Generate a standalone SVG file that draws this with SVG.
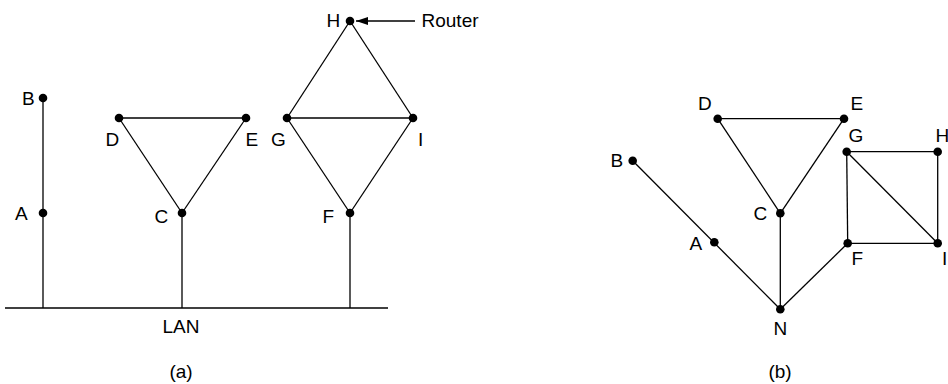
<svg xmlns="http://www.w3.org/2000/svg" width="948" height="384" viewBox="0 0 948 384">
<defs>
<style>
.e{stroke:#000;stroke-width:1.3;fill:none}
.d{fill:#000}
text{font-family:"Liberation Sans",Arial,sans-serif;font-size:19px;fill:#000}
.m{text-anchor:middle}
</style>
<marker id="ah" viewBox="0 0 12 8" refX="12" refY="4" markerWidth="12" markerHeight="8" markerUnits="userSpaceOnUse" orient="auto">
<path d="M0,0 L12,4 L0,8 Z" fill="#000"/>
</marker>
</defs>
<rect width="948" height="384" fill="#fff"/>
<g id="connectors">
<line class="e" x1="5" y1="308" x2="388" y2="308"/>
<line class="e" x1="43" y1="98" x2="43" y2="308"/>
<line class="e" x1="182" y1="213" x2="182" y2="308"/>
<line class="e" x1="350" y1="213" x2="350" y2="308"/>
<line class="e" x1="119" y1="118" x2="246" y2="118"/>
<line class="e" x1="119" y1="118" x2="182" y2="213"/>
<line class="e" x1="246" y1="118" x2="182" y2="213"/>
<line class="e" x1="287" y1="118" x2="413" y2="118"/>
<line class="e" x1="287" y1="118" x2="350" y2="21"/>
<line class="e" x1="413" y1="118" x2="350" y2="21"/>
<line class="e" x1="287" y1="118" x2="350" y2="213"/>
<line class="e" x1="413" y1="118" x2="350" y2="213"/>
<line class="e" x1="415" y1="21" x2="356" y2="21" marker-end="url(#ah)"/>
<line class="e" x1="717.7" y1="118.7" x2="844" y2="118.7"/>
<line class="e" x1="717.7" y1="118.7" x2="780.3" y2="213.3"/>
<line class="e" x1="844" y1="118.7" x2="780.3" y2="213.3"/>
<line class="e" x1="780.3" y1="213.3" x2="780.3" y2="309.3"/>
<line class="e" x1="632.7" y1="160.7" x2="780.3" y2="309.3"/>
<line class="e" x1="847.7" y1="243.3" x2="780.3" y2="309.3"/>
<line class="e" x1="846.7" y1="151.7" x2="937.7" y2="151.7"/>
<line class="e" x1="937.7" y1="151.7" x2="937.7" y2="243.3"/>
<line class="e" x1="847.7" y1="243.3" x2="937.7" y2="243.3"/>
<line class="e" x1="846.7" y1="151.7" x2="847.7" y2="243.3"/>
<line class="e" x1="846.7" y1="151.7" x2="937.7" y2="243.3"/>
</g>
<g id="a-B"><circle class="d" cx="43" cy="98" r="4.3"/><text x="22" y="105">B</text></g>
<g id="a-A"><circle class="d" cx="43" cy="213" r="4.3"/><text x="15" y="220">A</text></g>
<g id="a-D"><circle class="d" cx="119" cy="118" r="4.3"/><text x="105.5" y="145.5">D</text></g>
<g id="a-E"><circle class="d" cx="246" cy="118" r="4.3"/><text x="245.5" y="145.5">E</text></g>
<g id="a-C"><circle class="d" cx="182" cy="213" r="4.3"/><text x="154.5" y="222.5">C</text></g>
<g id="a-G"><circle class="d" cx="287" cy="118" r="4.3"/><text x="271" y="145.5">G</text></g>
<g id="a-H"><circle class="d" cx="350" cy="21" r="4.3"/><text x="326.5" y="26.5">H</text></g>
<g id="a-I"><circle class="d" cx="413" cy="118" r="4.3"/><text x="418" y="145.5">I</text></g>
<g id="a-F"><circle class="d" cx="350" cy="213" r="4.3"/><text x="322.5" y="222.5">F</text></g>
<g id="router"><text x="421.5" y="26.5">Router</text></g>
<g id="lan"><text class="m" x="181" y="333">LAN</text></g>
<g id="cap-a"><text class="m" x="181" y="378">(a)</text></g>
<g id="b-D"><circle class="d" cx="717.7" cy="118.7" r="4.3"/><text x="698" y="110">D</text></g>
<g id="b-E"><circle class="d" cx="844" cy="118.7" r="4.3"/><text x="850.5" y="110">E</text></g>
<g id="b-G"><circle class="d" cx="846.7" cy="151.7" r="4.3"/><text x="848.5" y="142">G</text></g>
<g id="b-H"><circle class="d" cx="937.7" cy="151.7" r="4.3"/><text x="935.5" y="142">H</text></g>
<g id="b-B"><circle class="d" cx="632.7" cy="160.7" r="4.3"/><text x="610.5" y="167">B</text></g>
<g id="b-C"><circle class="d" cx="780.3" cy="213.3" r="4.3"/><text x="753.5" y="220">C</text></g>
<g id="b-A"><circle class="d" cx="714.3" cy="242.3" r="4.3"/><text x="689.5" y="250">A</text></g>
<g id="b-F"><circle class="d" cx="847.7" cy="243.3" r="4.3"/><text x="851.5" y="265">F</text></g>
<g id="b-I"><circle class="d" cx="937.7" cy="243.3" r="4.3"/><text x="942" y="265">I</text></g>
<g id="b-N"><circle class="d" cx="780.3" cy="309.3" r="4.3"/><text class="m" x="780.3" y="335">N</text></g>
<g id="cap-b"><text class="m" x="780" y="378">(b)</text></g>
</svg>
